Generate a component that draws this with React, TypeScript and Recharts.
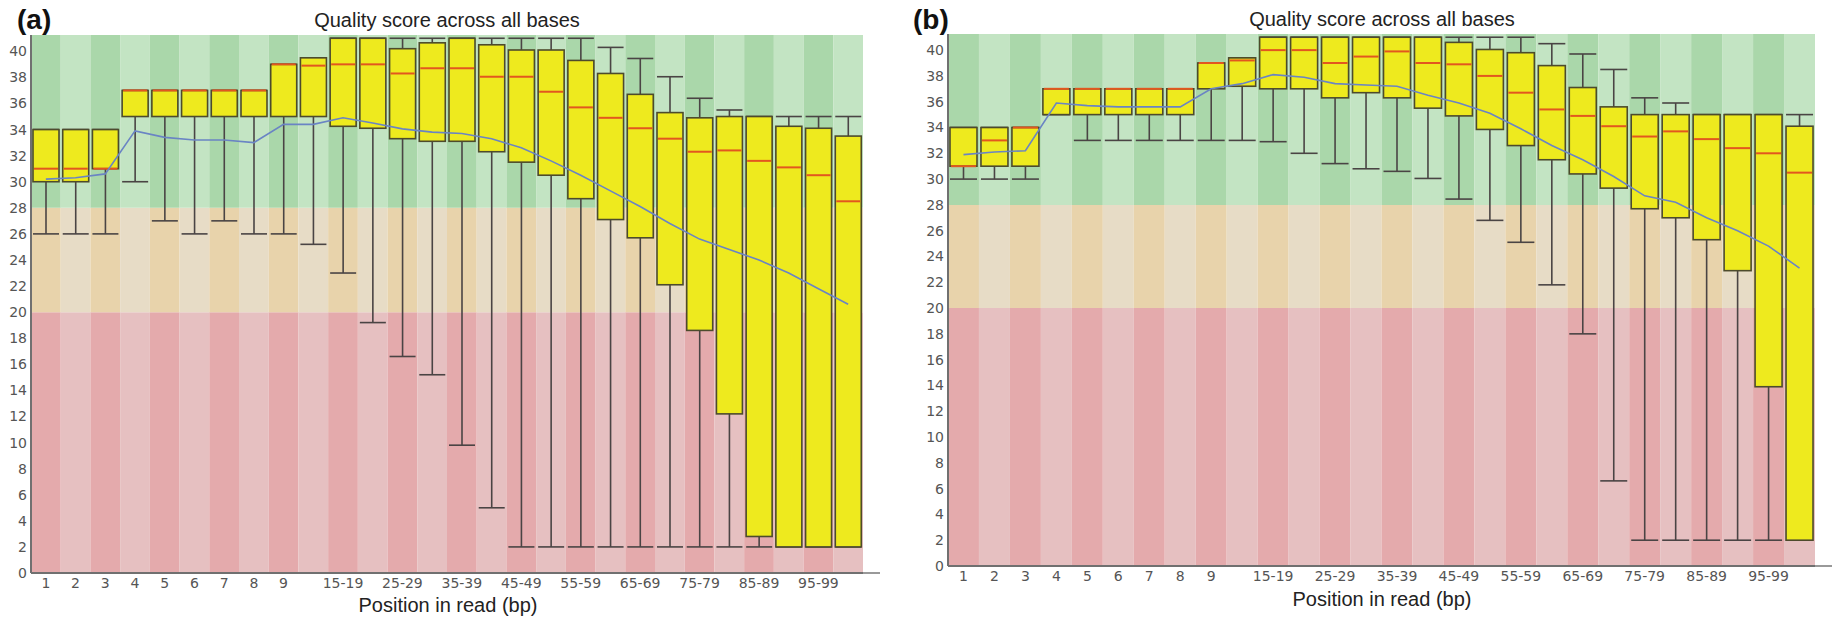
import { ComposedChart, Bar, Line, XAxis, YAxis, ReferenceArea } from 'recharts';

// read positions (FastQC groups bases after 9 into 5bp bins)
const positions = [
  '1', '2', '3', '4', '5', '6', '7', '8', '9', '10-14', '15-19', '20-24', '25-29', '30-34',
  '35-39', '40-44', '45-49', '50-54', '55-59', '60-64', '65-69', '70-74', '75-79', '80-84',
  '85-89', '90-94', '95-99', '100',
];
const shownLabels = ['1', '2', '3', '4', '5', '6', '7', '8', '9', '15-19', '25-29', '35-39', '45-49', '55-59', '65-69', '75-79', '85-89', '95-99'];
const qualityTicks = [0, 2, 4, 6, 8, 10, 12, 14, 16, 18, 20, 22, 24, 26, 28, 30, 32, 34, 36, 38, 40];
const Y_MAX = 41.25;

// panel (a)
const aLow = [26, 26, 26, 30, 27, 26, 27, 26, 26, 25.2, 23, 19.2, 16.6, 15.2, 9.8, 5, 2, 2, 2, 2, 2, 2, 2, 2, 2, 2, 2, 2];
const aQ1 = [30, 30, 31, 35, 35, 35, 35, 35, 35, 35, 34.25, 34.1, 33.3, 33.1, 33.1, 32.3, 31.5, 30.5, 28.7, 27.1, 25.7, 22.1, 18.6, 12.2, 2.8, 2, 2, 2];
const aMedian = [31, 31, 31, 37, 37, 37, 37, 37, 39, 38.9, 39, 39, 38.3, 38.7, 38.7, 38.05, 38.05, 36.9, 35.7, 34.9, 34.1, 33.3, 32.3, 32.4, 31.6, 31.1, 30.5, 28.5];
const aQ3 = [34, 34, 34, 37, 37, 37, 37, 37, 39, 39.5, 41, 41, 40.2, 40.65, 41, 40.5, 40.1, 40.1, 39.3, 38.3, 36.7, 35.3, 34.9, 35, 35, 34.25, 34.1, 33.5];
const aHigh = [34, 34, 34, 37, 37, 37, 37, 37, 39, 39.5, 41, 41, 41, 41, 41, 41, 41, 41, 41, 40.3, 39.45, 38.05, 36.4, 35.5, 35, 35, 35, 35];
const aMean = [30.2, 30.3, 30.6, 33.9, 33.4, 33.2, 33.2, 33.0, 34.4, 34.4, 34.9, 34.5, 34.05, 33.8, 33.7, 33.3, 32.6, 31.6, 30.5, 29.3, 28.1, 26.8, 25.6, 24.8, 24.0, 23.0, 21.8, 20.6];

// panel (b)
const bLow = [30, 30, 30, 35, 33, 33, 33, 33, 33, 33, 32.9, 32, 31.2, 30.8, 30.6, 30.05, 28.45, 26.8, 25.1, 21.8, 18, 6.6, 2, 2, 2, 2, 2, 2];
const bQ1 = [31, 31, 31, 35, 35, 35, 35, 35, 37, 37.2, 37, 37, 36.3, 36.7, 36.3, 35.5, 34.9, 33.85, 32.6, 31.5, 30.4, 29.3, 27.7, 27, 25.3, 22.9, 13.9, 2];
const bMedian = [31, 33, 34, 37, 37, 37, 37, 37, 39, 39.2, 40, 40, 39, 39.5, 39.9, 39, 38.9, 38, 36.7, 35.4, 34.9, 34.1, 33.3, 33.7, 33.1, 32.4, 32, 30.5];
const bQ3 = [34, 34, 34, 37, 37, 37, 37, 37, 39, 39.4, 41, 41, 41, 41, 41, 41, 40.6, 40.05, 39.8, 38.8, 37.1, 35.6, 35, 35, 35, 35, 35, 34.1];
const bHigh = [34, 34, 34, 37, 37, 37, 37, 37, 39, 39.4, 41, 41, 41, 41, 41, 41, 41, 41, 41, 40.5, 39.7, 38.5, 36.3, 35.9, 35, 35, 35, 35];
const bMean = [31.9, 32.1, 32.2, 35.9, 35.7, 35.6, 35.6, 35.6, 37.0, 37.4, 38.1, 37.9, 37.4, 37.3, 37.2, 36.5, 35.9, 35.1, 33.9, 32.6, 31.5, 30.2, 28.7, 28.2, 27.0, 26.0, 24.8, 23.1];

const zones = [
  { y1: 0, y2: 20, dark: '#e4aaac', light: '#e6c0c1' },
  { y1: 20, y2: 28, dark: '#e8d3ab', light: '#e7dcc6' },
  { y1: 28, y2: Y_MAX, dark: '#aad7aa', light: '#c3e4c3' },
];

function buildRows(low: number[], q1: number[], med: number[], q3: number[], high: number[], mean: number[]) {
  return positions.map((pos, i) => ({ pos, low: low[i], q1: q1[i], med: med[i], q3: q3[i], high: high[i], mean: mean[i] }));
}

// draws whiskers + box + median inside the bar's [low, high] pixel range
function BoxShape(props: any) {
  const { x, y, width, height, payload } = props;
  if (!payload) return null;
  const { low, q1, med, q3, high } = payload;
  const top = Math.min(y, y + height);
  const bottom = Math.max(y, y + height);
  const span = high - low || 1;
  const py = (v: number) => bottom - ((v - low) / span) * (bottom - top);
  const cx = x + width / 2;
  const whisker = '#4a4444';
  return (
    <g>
      <line x1={cx} x2={cx} y1={py(high)} y2={py(low)} stroke={whisker} strokeWidth={1.6} />
      <line x1={x} x2={x + width} y1={py(high)} y2={py(high)} stroke={whisker} strokeWidth={1.6} />
      <line x1={x} x2={x + width} y1={py(low)} y2={py(low)} stroke={whisker} strokeWidth={1.6} />
      <rect x={x} y={py(q3)} width={width} height={Math.max(py(q1) - py(q3), 0)} fill="#eeea1e" stroke="#4d4b2c" strokeWidth={1.6} />
      <line x1={x + 1} x2={x + width - 1} y1={py(med)} y2={py(med)} stroke="#e2571f" strokeWidth={2} />
    </g>
  );
}

const tickStyle = { fill: '#555', fontSize: 14, fontFamily: 'DejaVu Sans' };

function QualityPanel({ rows, width, margin, barSize }: any) {
  return (
    <ComposedChart width={width} height={620} data={rows} margin={margin}>
      {positions.map((pos, i) =>
        zones.map((z) => (
          <ReferenceArea key={`${pos}-${z.y1}`} x1={pos} x2={pos} y1={z.y1} y2={z.y2}
            fill={i % 2 === 0 ? z.dark : z.light} fillOpacity={1} stroke="none" ifOverflow="visible" />
        ))
      )}
      <XAxis dataKey="pos" type="category" height={1} interval={0} tickLine={false} tickSize={0} tickMargin={5}
        axisLine={{ stroke: '#707070', strokeWidth: 2 }} tick={tickStyle}
        tickFormatter={(v: string) => (shownLabels.includes(v) ? v : '')} />
      <YAxis type="number" domain={[0, Y_MAX]} ticks={qualityTicks} width={1} tickLine={false} tickSize={0} tickMargin={4}
        axisLine={{ stroke: '#707070', strokeWidth: 2 }} tick={tickStyle} interval={0} />
      <Bar dataKey={(d: any) => [d.low, d.high]} barSize={barSize} shape={BoxShape} isAnimationActive={false} />
      <Line dataKey="mean" type="linear" stroke="#6a84c4" strokeWidth={1.6} dot={false} activeDot={false} isAnimationActive={false} />
    </ComposedChart>
  );
}

export default function App() {
  const rowsA = buildRows(aLow, aQ1, aMedian, aQ3, aHigh, aMean);
  const rowsB = buildRows(bLow, bQ1, bMedian, bQ3, bHigh, bMean);
  const sans = 'Liberation Sans, Arial, sans-serif';

  return (
    <div style={{ position: 'absolute', left: 0, top: 0, width: 1832, height: 620, background: '#fff' }}>
      <div style={{ position: 'absolute', left: 0, top: 0 }}>
        <QualityPanel rows={rowsA} width={900} barSize={26} margin={{ top: 35, right: 37, bottom: 46, left: 30 }} />
      </div>
      <div style={{ position: 'absolute', left: 916, top: 0 }}>
        <QualityPanel rows={rowsB} width={916} barSize={27} margin={{ top: 34, right: 17, bottom: 53, left: 31 }} />
      </div>
      <svg width={1832} height={620} style={{ position: 'absolute', left: 0, top: 0, pointerEvents: 'none' }}>
        <text x={17} y={29} fontSize={28} fontWeight="bold" fontFamily={sans} fill="#111">(a)</text>
        <text x={447} y={27} fontSize={20} fontFamily={sans} fill="#222" textAnchor="middle">Quality score across all bases</text>
        <text x={448} y={612} fontSize={20} fontFamily={sans} fill="#222" textAnchor="middle">Position in read (bp)</text>
        <line x1={863} x2={880} y1={573} y2={573} stroke="#999" strokeWidth={2} />

        <text x={913} y={29} fontSize={28} fontWeight="bold" fontFamily={sans} fill="#111">(b)</text>
        <text x={1382} y={26} fontSize={20} fontFamily={sans} fill="#222" textAnchor="middle">Quality score across all bases</text>
        <text x={1382} y={606} fontSize={20} fontFamily={sans} fill="#222" textAnchor="middle">Position in read (bp)</text>
        <line x1={1815} x2={1832} y1={566} y2={566} stroke="#999" strokeWidth={2} />
      </svg>
    </div>
  );
}
